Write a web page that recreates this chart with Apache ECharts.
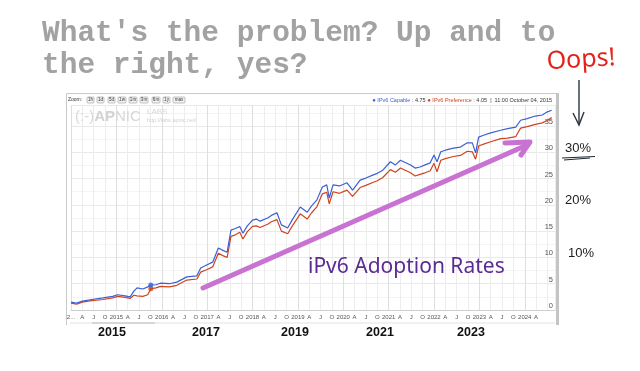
<!DOCTYPE html>
<html><head><meta charset="utf-8">
<script src="https://cdn.jsdelivr.net/npm/echarts@6/dist/echarts.min.js"></script>
<style>html,body{margin:0;padding:0;background:#fff}#c{width:640px;height:371px}</style>
</head><body><div id="c"></div>
<script>
// ---- data ----
const dates = ['2014-01-01','2014-02-15','2014-04-01','2014-06-15','2014-09-15','2014-12-01','2015-01-10','2015-03-10','2015-04-20','2015-05-20','2015-06-15','2015-08-01','2015-09-10','2015-10-04','2015-11-15','2015-12-20','2016-03-01','2016-05-01','2016-07-20','2016-10-10','2016-11-10','2017-01-01','2017-02-15','2017-03-30','2017-05-10','2017-06-10','2017-07-10','2017-08-15','2017-09-20','2017-10-15','2017-11-20','2018-01-01','2018-02-01','2018-03-01','2018-05-01','2018-06-01','2018-07-15','2018-08-20','2018-10-10','2018-11-15','2019-01-20','2019-03-15','2019-04-20','2019-06-01','2019-07-15','2019-08-20','2019-09-10','2019-10-10','2019-12-01','2020-02-01','2020-03-15','2020-05-15','2020-06-30','2020-08-30','2020-10-01','2020-11-15','2021-01-15','2021-02-25','2021-04-05','2021-06-25','2021-08-01','2021-09-10','2021-10-20','2021-12-01','2022-01-01','2022-01-25','2022-02-25','2022-04-01','2022-06-05','2022-08-01','2022-09-25','2022-11-05','2022-12-01','2022-12-25','2023-02-10','2023-04-01','2023-06-20','2023-08-15','2023-10-20','2023-11-28','2024-01-20','2024-03-25','2024-05-20','2024-07-01','2024-08-05'];
const capable = [1.5,1.3,1.7,2.0,2.3,2.6,2.9,2.7,2.5,3.6,4.2,4.0,4.4,4.75,4.8,5.1,5.0,5.3,6.3,6.5,8.0,8.6,9.1,11.8,11.3,11.0,15.2,15.5,15.9,14.6,16.0,17.1,17.3,16.9,17.5,18.0,18.5,16.2,15.6,17.1,19.6,18.6,19.8,20.9,23.4,23.8,21.3,23.8,23.6,24.2,22.8,24.7,25.1,25.7,26.0,26.6,28.2,27.6,28.5,27.6,27.0,27.2,27.6,28.0,29.5,28.2,30.1,30.4,30.8,31.0,31.8,31.8,29.9,32.9,33.3,33.7,34.2,34.5,34.8,36.1,36.4,36.9,37.1,37.7,38.0];
const preference = [1.3,1.1,1.5,1.8,2.0,2.3,2.6,2.4,2.2,2.8,2.7,2.6,2.9,4.05,4.2,4.5,4.4,4.7,5.7,5.9,7.2,7.7,8.2,10.8,10.3,10.0,14.0,14.3,14.8,13.5,14.9,15.9,16.0,15.7,16.3,16.8,17.2,15.0,14.5,15.9,18.3,17.3,18.5,19.6,22.1,22.4,20.2,22.5,22.2,22.8,21.6,23.3,23.7,24.3,24.6,25.2,26.7,26.2,27.0,26.1,25.5,25.8,26.1,26.5,27.9,26.3,28.5,28.8,29.2,29.4,30.2,30.1,28.7,31.2,31.6,32.0,32.6,32.7,33.0,34.6,34.9,35.3,35.6,36.1,36.6];
const hoverDate = '2015-10-04';
const hoverCapable = 4.75;
const hoverPreference = 4.05;
const quarterLetters = ['', 'A', 'J', 'O'];
const yTickValues = [0, 5, 10, 15, 20, 25, 30, 35];
const bigYearLabels = ['2015', '2017', '2019', '2021', '2023'];
const zoomButtons = ['1h', '1d', '5d', '1w', '1m', '3m', '6m', '1y', 'max'];
const percentNotes = ['30%', '20%', '10%'];

function monthIndex(s) {
  const p = s.split('-').map(Number);
  return (p[0] - 2014) * 12 + (p[1] - 1) + (p[2] - 1) / 30;
}
const capData = dates.map((d, i) => [monthIndex(d), capable[i]]);
const prefData = dates.map((d, i) => [monthIndex(d), preference[i]]);

const chart = echarts.init(document.getElementById('c'), null, {renderer: 'canvas'});

// layout constants
const bigYearX = [112, 206, 295, 380, 471];
const noteY = [148, 200, 253];
const btnX = [87, 97, 108, 118, 129, 140, 152, 163, 173];
const btnW = [7, 7, 7, 8, 8, 8, 8, 7, 12];

const graphics = [];
graphics.push({type: 'polyline', shape: {points: [[66.5, 325], [66.5, 93.5], [556, 93.5]]}, style: {stroke: '#c9c9c9', lineWidth: 1, fill: null}, z: 1});
graphics.push({type: 'rect', shape: {x: 556, y: 93, width: 3, height: 232}, style: {fill: '#c4c4c4'}, z: 1});
graphics.push({type: 'line', shape: {x1: 70, y1: 323, x2: 555, y2: 323}, style: {stroke: '#e2e2e2', lineWidth: 1}, z: 1});
graphics.push({type: 'line', shape: {x1: 92, y1: 323, x2: 155, y2: 323}, style: {stroke: '#bdbdbd', lineWidth: 1}, z: 1});
graphics.push({type: 'text', x: 68, y: 100, style: {text: 'Zoom:', font: '5px "Liberation Sans"', fill: '#333', verticalAlign: 'middle'}, z: 5});
zoomButtons.forEach((b, i) => {
  graphics.push({type: 'rect', shape: {x: btnX[i], y: 97, width: btnW[i], height: 6, r: 1}, style: {fill: '#f3f3f3', stroke: '#9a9a9a', lineWidth: 0.6}, z: 5});
  graphics.push({type: 'text', x: btnX[i] + btnW[i] / 2, y: 100, style: {text: b, font: '4.5px "Liberation Sans"', fill: '#333', align: 'center', verticalAlign: 'middle'}, z: 6});
});
graphics.push({type: 'text', x: 75, y: 117, style: {
  text: '{a|(:-)}{b|AP}{c|NIC}', verticalAlign: 'middle',
  rich: {a: {font: '15px "Liberation Sans"', fill: '#d9d9d9'}, b: {font: 'bold 15px "Liberation Sans"', fill: '#d2d2d2'}, c: {font: '15px "Liberation Sans"', fill: '#d6d6d6'}}
}, z: 2});
graphics.push({type: 'text', x: 147, y: 112, style: {text: 'LABS', font: '8px "Liberation Sans"', fill: '#d6d6d6', verticalAlign: 'middle'}, z: 2});
graphics.push({type: 'text', x: 147, y: 120, style: {text: 'http://labs.apnic.net/', font: '5.5px "Liberation Sans"', fill: '#d0d0d0', verticalAlign: 'middle'}, z: 2});
graphics.push({type: 'text', x: 552, y: 100, style: {
  text: '{bd|●}{b| IPv6 Capable}{k| : 4.75 }{rd|●}{r| IPv6 Preference}{k| : 4.05  |  11:00 October 04, 2015}',
  align: 'right', verticalAlign: 'middle',
  rich: {bd: {font: '6px "Liberation Sans"', fill: '#3a5fd0'}, b: {font: '5.5px "Liberation Sans"', fill: '#3a5fd0'},
         rd: {font: '6px "Liberation Sans"', fill: '#d0431c'}, r: {font: '5.5px "Liberation Sans"', fill: '#d0431c'},
         k: {font: '5.5px "Liberation Sans"', fill: '#333'}}
}, z: 5});
graphics.push({type: 'text', x: 42, y: 34, style: {text: "What's the problem? Up and to", font: 'bold 29.5px "Liberation Mono"', fill: '#a2a2a2', verticalAlign: 'middle'}, z: 10});
graphics.push({type: 'text', x: 42, y: 66, style: {text: 'the right, yes?', font: 'bold 29.5px "Liberation Mono"', fill: '#a2a2a2', verticalAlign: 'middle'}, z: 10});
graphics.push({type: 'text', x: 581, y: 60, rotation: 0.06, style: {text: 'Oops!', font: '25px "Noto Sans"', fill: '#e3221b', align: 'center', verticalAlign: 'middle'}, z: 10});
graphics.push({type: 'polyline', shape: {points: [[579, 80], [579, 125]]}, style: {stroke: '#2a3440', lineWidth: 1.4, fill: null}, z: 10});
graphics.push({type: 'polyline', shape: {points: [[573, 113], [579, 125], [584, 112]]}, style: {stroke: '#2a3440', lineWidth: 1.4, fill: null}, z: 10});
percentNotes.forEach((t, i) => {
  graphics.push({type: 'text', x: 565 + (i === 2 ? 3 : 0), y: noteY[i], style: {text: t, font: '13px "Liberation Sans"', fill: '#1d1d1d', verticalAlign: 'middle'}, z: 10});
});
graphics.push({type: 'polyline', shape: {points: [[562, 158], [595, 156.5]]}, style: {stroke: '#1e2a35', lineWidth: 1.2, fill: null}, z: 10});
graphics.push({type: 'polyline', shape: {points: [[564, 160], [590, 158]]}, style: {stroke: '#1e2a35', lineWidth: 1, fill: null}, z: 10});
graphics.push({type: 'polyline', shape: {points: [[203, 288], [527, 145]]}, style: {stroke: '#c872d2', lineWidth: 5, lineCap: 'round', fill: null}, z: 20});
graphics.push({type: 'polyline', shape: {points: [[505, 143], [530, 142], [521, 155]]}, style: {stroke: '#c872d2', lineWidth: 5, lineCap: 'round', lineJoin: 'round', fill: null}, z: 20});
graphics.push({type: 'text', x: 308, y: 267, style: {text: 'iPv6 Adoption Rates', font: '21px "Noto Sans"', fill: '#5a2c93', verticalAlign: 'middle'}, z: 20});
bigYearLabels.forEach((t, i) => {
  graphics.push({type: 'text', x: bigYearX[i], y: 333, style: {text: t, font: 'bold 12.5px "Liberation Sans"', fill: '#111', align: 'center', verticalAlign: 'middle'}, z: 10});
});

chart.setOption({
  animation: false,
  grid: {left: 71, right: 85, top: 105, bottom: 61, containLabel: false},
  xAxis: {
    type: 'value', min: 0, max: 128, interval: 3,
    axisLine: {show: true, lineStyle: {color: '#cfcfcf'}},
    axisTick: {show: false},
    axisLabel: {fontSize: 6, color: '#555', margin: 4, fontFamily: 'Liberation Sans', showMaxLabel: false,
      formatter: v => { if (v > 124) return ''; const q = Math.round(v / 3) % 4; const y = 2014 + Math.floor(v / 12); if (q === 0) return v === 0 ? '2...' : String(y); return quarterLetters[q]; }},
    splitLine: {show: true, lineStyle: {color: ['#dedede', '#ededed', '#ededed', '#ededed'], width: 1}}
  },
  yAxis: {
    type: 'value', position: 'right', min: 0, max: 39, interval: 5,
    axisLine: {show: false}, axisTick: {show: false},
    axisLabel: {inside: true, fontSize: 7.5, color: '#555', margin: 2, verticalAlign: 'bottom', showMaxLabel: false, fontFamily: 'Liberation Sans',
      formatter: v => yTickValues.indexOf(v) >= 0 ? String(v) : ''},
    splitLine: {lineStyle: {color: '#e9e9e9'}},
    minorTick: {show: false, splitNumber: 2},
    minorSplitLine: {show: true, lineStyle: {color: '#f4f4f4'}}
  },
  series: [
    {name: 'IPv6 Capable', type: 'line', data: capData, showSymbol: false, lineStyle: {color: '#3b60d3', width: 1.2}, z: 3},
    {name: 'IPv6 Preference', type: 'line', data: prefData, showSymbol: false, lineStyle: {color: '#cf4420', width: 1.2}, z: 2},
    {type: 'scatter', data: [[monthIndex(hoverDate), hoverPreference]], symbolSize: 5, itemStyle: {color: '#cf4420'}, z: 4},
    {type: 'scatter', data: [[monthIndex(hoverDate), hoverCapable]], symbolSize: 5, itemStyle: {color: '#3b60d3'}, z: 5}
  ],
  graphic: {elements: graphics}
});
</script>
</body></html>
